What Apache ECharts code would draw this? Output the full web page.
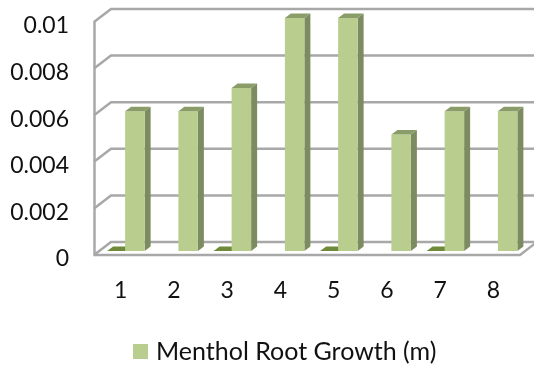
<!DOCTYPE html>
<html>
<head>
<meta charset="utf-8">
<style>html,body{margin:0;padding:0;background:#fff}#chart{width:534px;height:366px}</style>
<script src="https://cdn.jsdelivr.net/npm/echarts@6/dist/echarts.min.js"></script>
</head>
<body>
<div id="chart"></div>
<script>
const categories = ['1', '2', '3', '4', '5', '6', '7', '8'];
const rootGrowth = [0.006, 0.006, 0.007, 0.01, 0.01, 0.005, 0.006, 0.006];
const flatSeries = [0, null, 0, null, 0, null, 0, null];
const yTicks = [0, 0.002, 0.004, 0.006, 0.008, 0.01];

const FONT = 'Lato, "Open Sans", sans-serif';
const GRID_COLOR = '#a8a8a8';
// Perspective shift from the front edge of the floor to the back wall
const WALL = { dx: 17, dy: -13 };

// Extruded column: front face, lit top and shaded right side
function columnItem(shiftX, faces) {
  return function (params, api) {
    const base = api.coord([api.value(0), 0]);
    const top = api.coord([api.value(0), api.value(1)]);
    const w = 19.5, d = 6, r = 4.5;
    const x0 = base[0] + shiftX, x1 = x0 + w;
    const y0 = top[1] - 4, y1 = base[1] - 4;
    const poly = (points, fill) => ({ type: 'polygon', shape: { points }, style: { fill } });
    const children = [];
    if (y1 > y0) {
      children.push(poly([[x1, y0], [x1 + d, y0 - r], [x1 + d, y1 - r], [x1, y1]], faces.side));
      children.push({ type: 'rect', shape: { x: x0, y: y0, width: w, height: y1 - y0 }, style: { fill: faces.front } });
    }
    children.push(poly([[x0, y0], [x0 + d, y0 - r], [x1 + d, y0 - r], [x1, y0]], faces.top));
    return { type: 'group', children };
  };
}

// Floor edge, wall diagonals and back-wall gridlines for each value tick
function wallItem(params, api) {
  const v = api.value(0);
  const left = api.coord([0, v])[0] - api.size([1, 0])[0] / 2;
  const right = left + api.size([1, 0])[0] * categories.length;
  const y = api.coord([0, v])[1];
  const children = [{
    type: 'polyline',
    shape: { points: [[left, y], [left + WALL.dx, y + WALL.dy], [right + WALL.dx, y + WALL.dy]] },
    style: { fill: null, stroke: GRID_COLOR, lineWidth: 2.5 }
  }];
  if (v === 0) {
    children.push({
      type: 'polyline',
      shape: { points: [[left, y], [right, y], [right + WALL.dx, y + WALL.dy]] },
      style: { fill: null, stroke: GRID_COLOR, lineWidth: 2.5 }
    });
  }
  return { type: 'group', children };
}

const chart = echarts.init(document.getElementById('chart'), null, { renderer: 'canvas' });
chart.setOption({
  animation: false,
  backgroundColor: '#fff',
  grid: { left: 94, top: 22, width: 426, height: 233 },
  legend: {
    data: [{ name: 'Menthol Root Growth (m)', icon: 'rect' }],
    left: 128, top: 334,
    itemWidth: 15, itemHeight: 15,
    textStyle: { fontFamily: FONT, fontSize: 25, color: '#111', padding: [0, 0, 0, 3] }
  },
  xAxis: {
    type: 'category', data: categories,
    axisLine: { show: false }, axisTick: { show: false }, splitLine: { show: false },
    axisLabel: { fontFamily: FONT, fontSize: 23, color: '#111', margin: 24 }
  },
  yAxis: {
    type: 'value', min: 0, max: 0.01, interval: 0.002,
    axisLine: { show: true, lineStyle: { color: GRID_COLOR, width: 2.5 } },
    axisTick: { show: false }, splitLine: { show: false },
    axisLabel: {
      fontFamily: FONT, fontSize: 23, color: '#111', margin: 25,
      verticalAlign: 'top', lineHeight: 8,
      formatter: v => String(+v.toFixed(3))
    }
  },
  series: [
    {
      type: 'custom', name: 'wall', silent: true, z: 1, clip: false,
      data: yTicks.map(v => [v]),
      encode: { y: 0 },
      renderItem: wallItem
    },
    {
      type: 'custom', name: 'flat', silent: true, z: 2, clip: false,
      data: flatSeries.map((v, i) => [i, v]).filter(d => d[1] !== null),
      encode: { x: 0, y: 1 },
      renderItem: columnItem(-13.5, { front: '#6f8a3a', top: '#6f8a3a', side: '#6f8a3a' })
    },
    {
      type: 'custom', name: 'Menthol Root Growth (m)', silent: true, z: 3, clip: false,
      itemStyle: { color: '#b9cd8e' },
      data: rootGrowth.map((v, i) => [i, v]),
      encode: { x: 0, y: 1 },
      renderItem: columnItem(4.5, { front: '#b9cd8e', top: '#8a9d68', side: '#7c8c60' })
    }
  ]
});
</script>
</body>
</html>
